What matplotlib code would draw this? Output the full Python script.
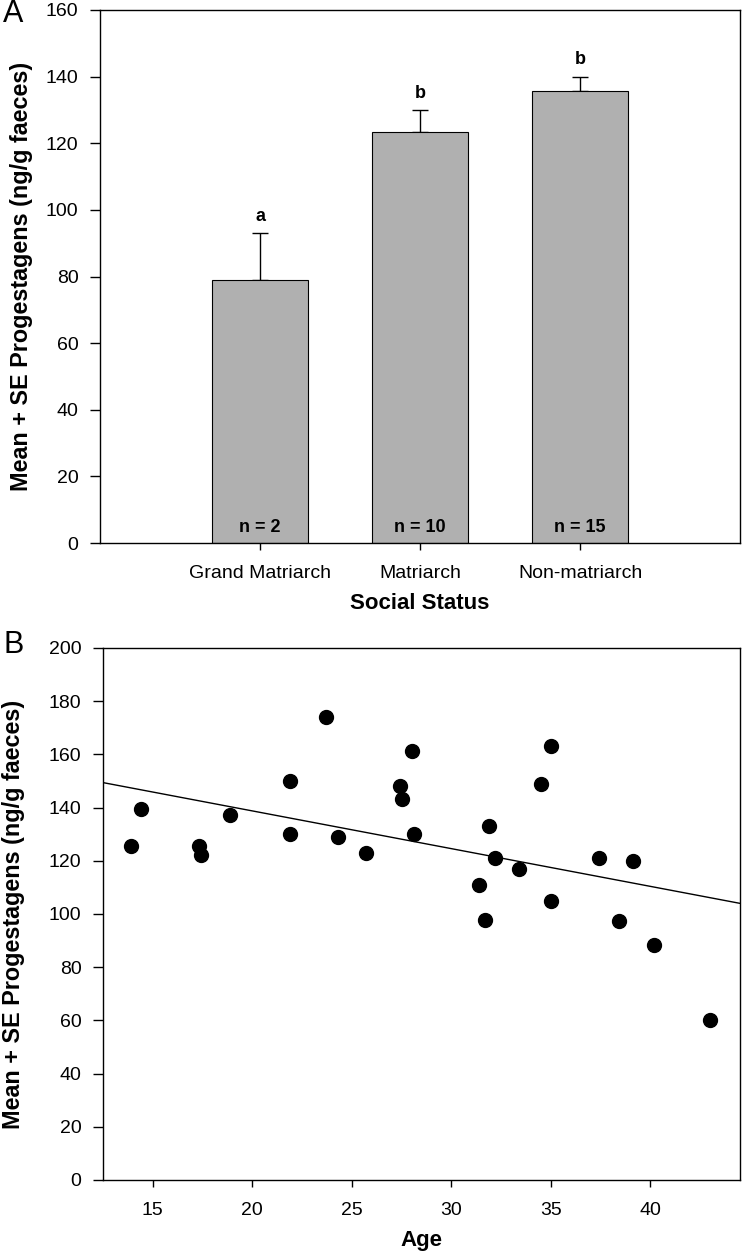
import matplotlib
matplotlib.use('Agg')
import matplotlib.pyplot as plt
import numpy as np

plt.rcParams['font.family'] = ['Liberation Sans', 'DejaVu Sans']

# Panel A: progestagens by social status
status = ['Grand Matriarch', 'Matriarch', 'Non-matriarch']
means = [79, 123.3, 135.7]
se_top = [93, 130, 140]
letters = ['a', 'b', 'b']
n_labels = ['n = 2', 'n = 10', 'n = 15']

# Panel B: progestagens vs age
age = [13.9, 14.4, 17.3, 17.4, 18.9, 21.9, 21.9, 23.7, 24.3, 25.7,
       27.4, 27.5, 28.0, 28.1, 31.4, 31.7, 31.9, 32.2, 33.4, 34.5,
       35.0, 35.0, 37.4, 38.4, 39.1, 40.2, 43.0]
prog = [125.5, 139.4, 125.4, 122.1, 137.1, 150.1, 129.9, 173.9, 128.8, 123.0,
        148.1, 143.1, 161.4, 129.9, 110.9, 97.8, 133.1, 120.9, 117.0, 148.8,
        163.3, 104.9, 120.9, 97.3, 119.9, 88.3, 60.0]
# regression line (value at x = 12.5 and x = 44.5)
reg_x = [12.5, 44.5]
reg_y = [149.4, 104.0]

ylab = 'Mean + SE Progestagens (ng/g faeces)'

fig = plt.figure(figsize=(7.42, 12.57), dpi=100)

ax1 = fig.add_axes([100/742, 1-543/1257, 640/742, 533/1257])
x = np.arange(1, len(status) + 1)
ax1.bar(x, means, width=0.6, color='#b0b0b0', edgecolor='black', linewidth=0.8, zorder=2)
err = np.array(se_top) - np.array(means)
ax1.errorbar(x, means, yerr=[np.zeros(len(x)), err], fmt='none', ecolor='black',
             elinewidth=1, capsize=5.5, capthick=1, zorder=1)
for xi, top, let in zip(x, se_top, letters):
    ax1.text(xi, top + 2.5, let, ha='center', va='bottom', fontsize=13, fontweight='bold')
for xi, lab in zip(x, n_labels):
    ax1.text(xi, 2, lab, ha='center', va='bottom', fontsize=13, fontweight='bold')
ax1.set_xlim(0, 4)
ax1.set_ylim(0, 160)
ax1.set_xticks(x)
ax1.set_xticklabels(status)
ax1.set_yticks(range(0, 161, 20))
ax1.set_xlabel('Social Status', fontsize=16, fontweight='bold', labelpad=8)
ax1.set_ylabel(ylab, fontsize=16.8, fontweight='bold', labelpad=9)
fig.text(3/742, 1-14/1257, 'A', fontsize=22, ha='left', va='center')

ax2 = fig.add_axes([103/742, 1-1180/1257, 637/742, 532/1257])
ax2.scatter(age, prog, s=100, color='black', zorder=3)
ax2.plot(reg_x, reg_y, color='black', linewidth=1)
ax2.set_xlim(12.5, 44.5)
ax2.set_ylim(0, 200)
ax2.set_xticks(range(15, 41, 5))
ax2.set_yticks(range(0, 201, 20))
ax2.set_xlabel('Age', fontsize=16, fontweight='bold', labelpad=8)
ax2.set_ylabel(ylab, fontsize=16.8, fontweight='bold', labelpad=17)
fig.text(3/742, 1-645/1257, 'B', fontsize=22, ha='left', va='center')

for ax in (ax1, ax2):
    for sp in ax.spines.values():
        sp.set_linewidth(1.0)
    ax.tick_params(axis='y', direction='out', length=7.5, width=1, labelsize=14, pad=8)
    ax.tick_params(axis='x', direction='out', length=5, width=1, labelsize=14, pad=11)

fig.savefig('out.png', dpi=100)
